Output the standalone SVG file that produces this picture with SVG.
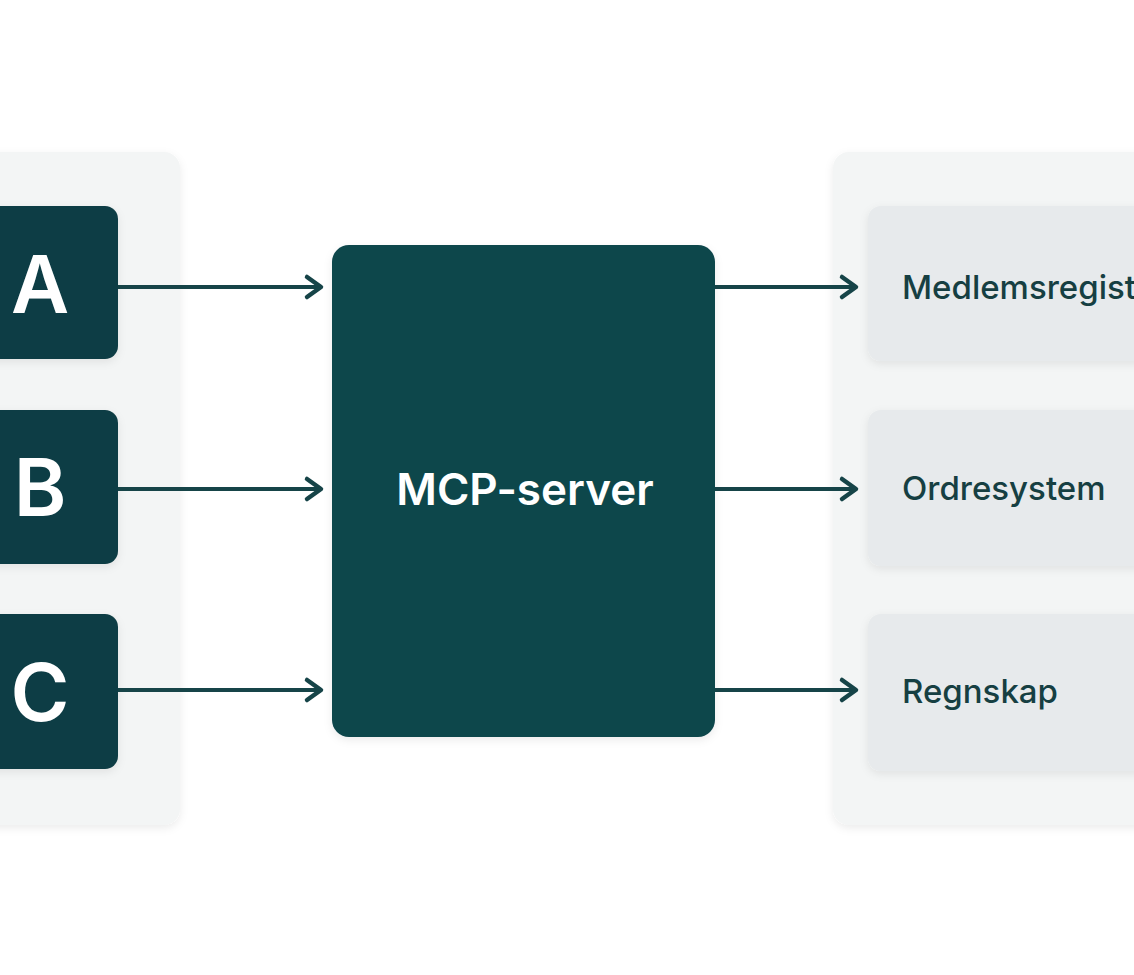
<svg xmlns="http://www.w3.org/2000/svg" width="1134" height="975" viewBox="0 0 1134 975">
<style>
.panel{fill:#f3f5f5;}
.src{fill:#0f3d44;}
.tgt{fill:#e7eaec;}
.letter{font-family:Inter,"Liberation Sans",sans-serif;font-weight:600;font-size:80px;fill:#ffffff;text-anchor:middle;}
.lbl{font-family:Inter,"Liberation Sans",sans-serif;font-weight:500;font-size:33px;fill:#163f42;}
.conn{stroke:#164448;stroke-width:4;fill:none;}
</style>
<defs>
<filter id="sh" x="-20%" y="-20%" width="140%" height="140%">
<feDropShadow dx="0" dy="3" stdDeviation="4" flood-color="#000" flood-opacity="0.08"/>
</filter>
<marker id="arr" viewBox="-20 -14 24 28" refX="0" refY="0" markerWidth="24" markerHeight="28" markerUnits="userSpaceOnUse" orient="auto">
<path d="M-15 -10 L-1 0 L-15 10" fill="none" stroke="#164448" stroke-width="4.5" stroke-linecap="round" stroke-linejoin="round"/>
</marker>
</defs>
<rect width="1134" height="975" fill="#ffffff"/>
<g id="left-panel"><rect class="panel" x="-20" y="152" width="200" height="673" rx="16" filter="url(#sh)"/></g>
<g id="right-panel"><rect class="panel" x="833" y="152" width="320" height="673" rx="16" filter="url(#sh)"/></g>
<g id="node-a"><rect class="src" x="-20" y="206" width="138" height="153" rx="13" filter="url(#sh)"/><text class="letter" x="40" y="313">A</text></g>
<g id="node-b"><rect class="src" x="-20" y="410" width="138" height="154" rx="13" filter="url(#sh)"/><text class="letter" x="40" y="516">B</text></g>
<g id="node-c"><rect class="src" x="-20" y="614" width="138" height="155" rx="13" filter="url(#sh)"/><text class="letter" x="40" y="721">C</text></g>
<g id="mcp-server"><rect x="332" y="245" width="383" height="492" rx="17" fill="#11464c" filter="url(#sh)"/><text x="525" y="505" font-family="Inter,'Liberation Sans',sans-serif" font-weight="600" font-size="44" fill="#ffffff" text-anchor="middle">MCP-server</text></g>
<g id="medlemsregister"><rect class="tgt" x="868" y="206" width="290" height="155" rx="13" filter="url(#sh)"/><text class="lbl" x="902" y="299">Medlemsregister</text></g>
<g id="ordresystem"><rect class="tgt" x="868" y="410" width="290" height="156" rx="13" filter="url(#sh)"/><text class="lbl" x="902" y="500">Ordresystem</text></g>
<g id="regnskap"><rect class="tgt" x="868" y="614" width="290" height="157" rx="13" filter="url(#sh)"/><text class="lbl" x="902" y="703">Regnskap</text></g>
<g id="connectors">
<line class="conn" x1="118" y1="287" x2="322" y2="287" marker-end="url(#arr)"/>
<line class="conn" x1="118" y1="489" x2="322" y2="489" marker-end="url(#arr)"/>
<line class="conn" x1="118" y1="690" x2="322" y2="690" marker-end="url(#arr)"/>
<line class="conn" x1="715" y1="287" x2="857" y2="287" marker-end="url(#arr)"/>
<line class="conn" x1="715" y1="489" x2="857" y2="489" marker-end="url(#arr)"/>
<line class="conn" x1="715" y1="690" x2="857" y2="690" marker-end="url(#arr)"/>
</g>
</svg>
